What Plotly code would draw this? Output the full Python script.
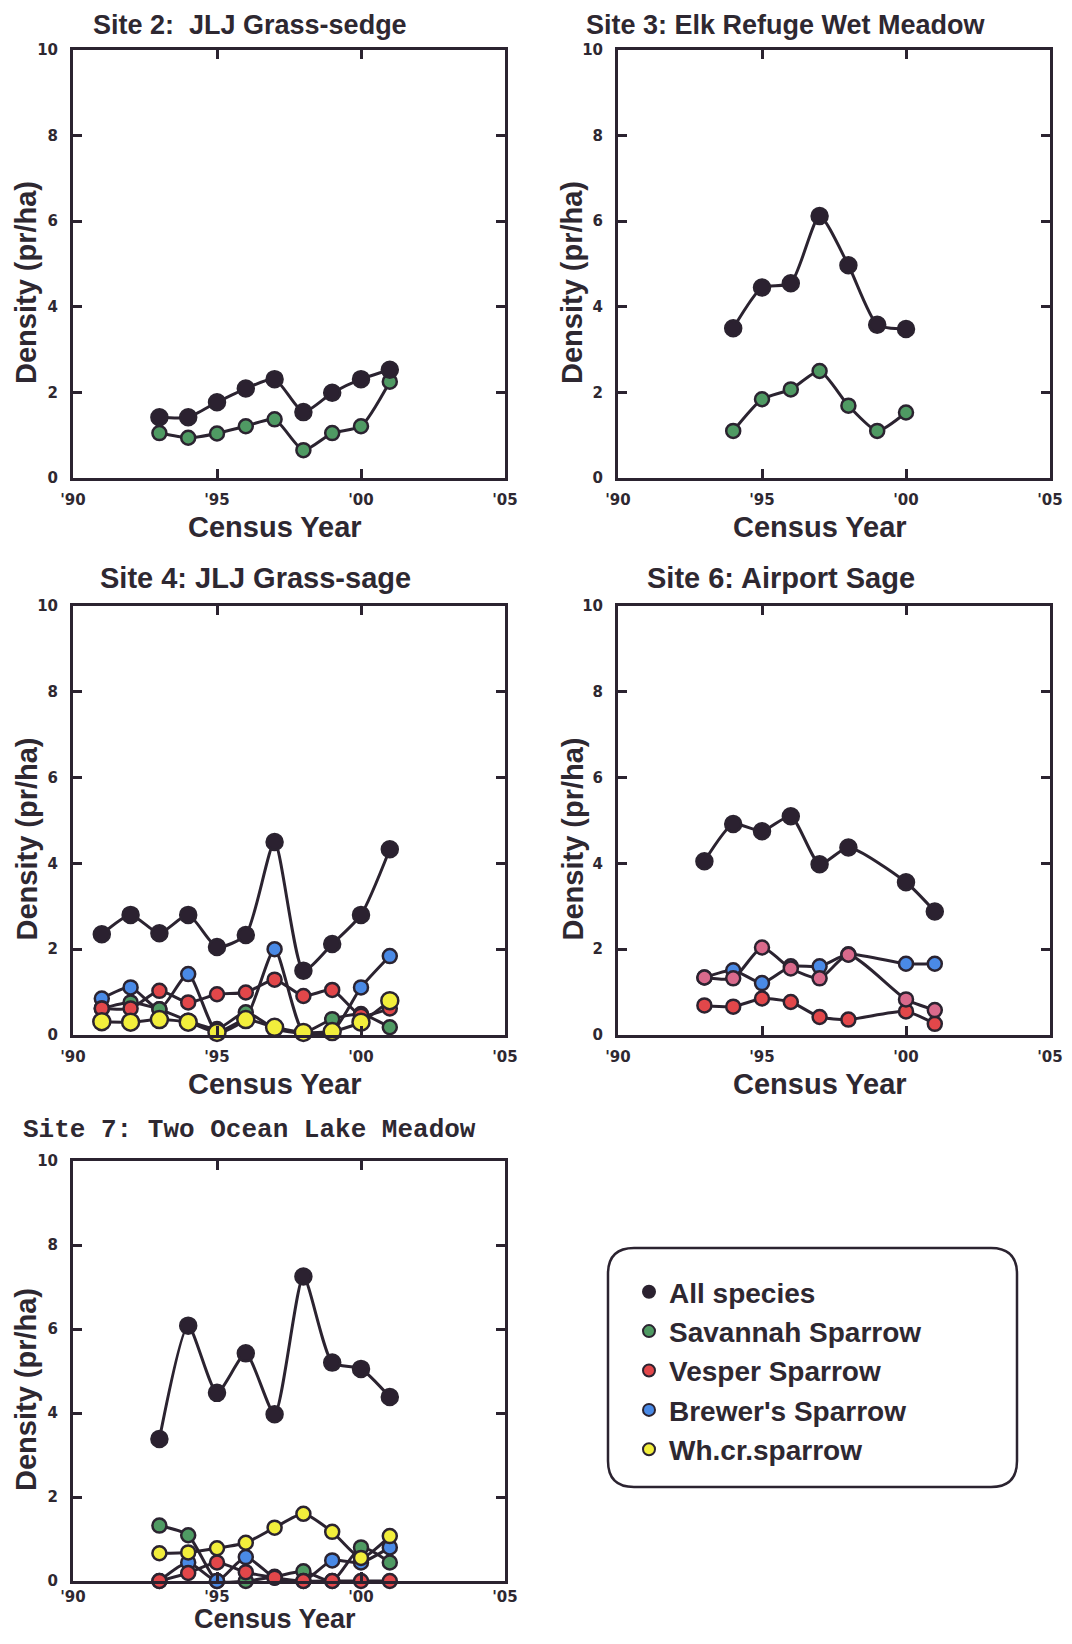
import plotly.graph_objects as go

# The page body has an 8px margin; the figure is sized to fit the 1072x1644 window.
OFF = 8
W, H = 1072 - 2 * OFF, 1644 - 2 * OFF

# ---------------- data ----------------
species = ["All species", "Savannah Sparrow", "Vesper Sparrow", "Brewer's Sparrow", "Wh.cr.sparrow"]
colors = {"All species": "#2b2130", "Savannah Sparrow": "#4f9a63", "Vesper Sparrow": "#e2474a",
          "Brewer's Sparrow": "#4a8ae6", "Wh.cr.sparrow": "#f2ee3c", "Other": "#d96a8c"}

x_ticks = [1990, 1995, 2000, 2005]
x_tick_text = ["'90", "'95", "'00", "'05"]
y_ticks = [0, 2, 4, 6, 8, 10]
x_title = "Census Year"
y_title = "Density (pr/ha)"

# Site 2
s2_years = [1993, 1994, 1995, 1996, 1997, 1998, 1999, 2000, 2001]
s2_all = [1.42, 1.42, 1.77, 2.09, 2.31, 1.54, 1.99, 2.31, 2.53]
s2_sav = [1.05, 0.94, 1.04, 1.21, 1.37, 0.65, 1.05, 1.21, 2.25]

# Site 3
s3_years = [1994, 1995, 1996, 1997, 1998, 1999, 2000]
s3_all = [3.5, 4.45, 4.55, 6.12, 4.97, 3.58, 3.48]
s3_sav = [1.1, 1.84, 2.07, 2.5, 1.69, 1.1, 1.53]

# Site 4
s4_years = [1991, 1992, 1993, 1994, 1995, 1996, 1997, 1998, 1999, 2000, 2001]
s4_all = [2.35, 2.8, 2.37, 2.8, 2.05, 2.33, 4.5, 1.5, 2.12, 2.8, 4.33]
s4_sav = [0.62, 0.76, 0.6, 0.33, 0.14, 0.53, 0.15, 0.05, 0.37, 0.49, 0.18]
s4_ves = [0.62, 0.62, 1.03, 0.76, 0.95, 0.99, 1.29, 0.91, 1.05, 0.45, 0.62]
s4_bre = [0.85, 1.11, 0.6, 1.42, 0.06, 0.38, 2.0, 0.06, 0.08, 1.11, 1.84]
s4_whc = [0.31, 0.3, 0.36, 0.3, 0.06, 0.36, 0.18, 0.06, 0.08, 0.3, 0.8]

# Site 6
s6_years = [1993, 1994, 1995, 1996, 1997, 1998, 2000, 2001]
s6_all = [4.05, 4.92, 4.75, 5.1, 3.98, 4.37, 3.56, 2.88]
s6_oth = [1.34, 1.32, 2.04, 1.55, 1.32, 1.87, 0.83, 0.58]
s6_bre = [1.34, 1.51, 1.21, 1.6, 1.6, 1.88, 1.66, 1.66]
s6_ves = [0.69, 0.66, 0.85, 0.77, 0.42, 0.36, 0.55, 0.26]

# Site 7
s7_years = [1993, 1994, 1995, 1996, 1997, 1998, 1999, 2000, 2001]
s7_all = [3.38, 6.08, 4.48, 5.42, 3.97, 7.25, 5.2, 5.05, 4.38]
s7_sav = [1.32, 1.09, 0.0, 0.0, 0.1, 0.23, 0.0, 0.8, 0.44]
s7_ves = [0.0, 0.19, 0.44, 0.21, 0.08, 0.0, 0.0, 0.0, 0.0]
s7_bre = [0.0, 0.44, 0.0, 0.57, 0.08, 0.0, 0.49, 0.44, 0.8]
s7_whc = [0.66, 0.68, 0.78, 0.91, 1.27, 1.6, 1.17, 0.55, 1.07]

titles = ["Site 2:  JLJ Grass-sedge", "Site 3: Elk Refuge Wet Meadow", "Site 4: JLJ Grass-sage",
          "Site 6: Airport Sage", "Site 7: Two Ocean Lake Meadow"]

# ---------------- layout geometry (window pixels) ----------------
panels = [
    dict(x=(73, 505), y=(50, 478)),
    dict(x=(618, 1050), y=(50, 478)),
    dict(x=(73, 505), y=(606, 1035)),
    dict(x=(618, 1050), y=(606, 1035)),
    dict(x=(73, 505), y=(1161, 1581)),
]


def px(x):
    return (x - OFF) / W


def py(y):
    return 1 - (y - OFF) / H


DARK = "#2b2330"
TXT = "#2e2831"

fig = go.Figure()


def add_series(i, years, vals, key, size=14):
    sfx = "" if i == 0 else str(i + 1)
    fig.add_trace(go.Scatter(
        x=years, y=vals, mode="lines+markers", xaxis="x" + sfx, yaxis="y" + sfx,
        line=dict(color=DARK, width=3, shape="spline", smoothing=0.6),
        marker=dict(size=size, color=colors[key], line=dict(color=DARK, width=2.5)),
        cliponaxis=False, showlegend=False, name=key, hoverinfo="x+y+name"))


# Site 2
add_series(0, s2_years, s2_sav, "Savannah Sparrow", 14)
add_series(0, s2_years, s2_all, "All species", 16)
# Site 3
add_series(1, s3_years, s3_sav, "Savannah Sparrow", 14)
add_series(1, s3_years, s3_all, "All species", 16)
# Site 4
add_series(2, s4_years, s4_bre, "Brewer's Sparrow", 14)
add_series(2, s4_years, s4_sav, "Savannah Sparrow", 14)
add_series(2, s4_years, s4_ves, "Vesper Sparrow", 14)
add_series(2, s4_years, s4_whc, "Wh.cr.sparrow", 17)
add_series(2, s4_years, s4_all, "All species", 16)
# Site 6
add_series(3, s6_years, s6_ves, "Vesper Sparrow", 14)
add_series(3, s6_years, s6_bre, "Brewer's Sparrow", 14)
add_series(3, s6_years, s6_oth, "Other", 14)
add_series(3, s6_years, s6_all, "All species", 16)
# Site 7
add_series(4, s7_years, s7_sav, "Savannah Sparrow", 14)
add_series(4, s7_years, s7_bre, "Brewer's Sparrow", 14)
add_series(4, s7_years, s7_ves, "Vesper Sparrow", 14)
add_series(4, s7_years, s7_whc, "Wh.cr.sparrow", 14)
add_series(4, s7_years, s7_all, "All species", 16)

# Legend entries (marker only)
for k, sp in enumerate(species):
    fig.add_trace(go.Scatter(
        x=[None], y=[None], mode="markers", name=sp,
        marker=dict(size=15, color=colors[sp], line=dict(color=DARK, width=2)),
        showlegend=True))

tickfont = dict(family="DejaVu Sans", size=15, color=TXT, weight="bold")
titlefont = dict(family="Liberation Sans", size=29, color=TXT, weight="bold")

layout = dict(
    template="none",
    width=W, height=H, margin=dict(l=0, r=0, t=0, b=0, autoexpand=False),
    paper_bgcolor="white", plot_bgcolor="white",
    showlegend=True,
    legend=dict(x=px(629), y=py(1267), xanchor="left", yanchor="top",
                bgcolor="rgba(0,0,0,0)", itemsizing="constant", traceorder="normal",
                font=dict(family="Liberation Sans", size=28, color=TXT, weight="bold")),
)

for i, p in enumerate(panels):
    sfx = "" if i == 0 else str(i + 1)
    x0, x1 = p["x"]
    y0, y1 = p["y"]
    layout["xaxis" + sfx] = dict(
        domain=[px(x0), px(x1)], anchor="y" + sfx, range=[1990, 2005], automargin=False,
        tickmode="array", tickvals=x_ticks, ticktext=x_tick_text,
        ticks="inside", ticklen=9, tickwidth=2.5, tickcolor=DARK,
        showline=True, linewidth=3, linecolor=DARK, mirror="ticks",
        showgrid=False, zeroline=False, tickfont=tickfont,
        ticklabelstandoff=(0 if i == 4 else 6))
    layout["yaxis" + sfx] = dict(
        domain=[py(y1), py(y0)], anchor="x" + sfx, range=[0, 10], automargin=False,
        tickmode="array", tickvals=y_ticks,
        ticks="inside", ticklen=9, tickwidth=2.5, tickcolor=DARK,
        showline=True, linewidth=3, linecolor=DARK, mirror="ticks",
        showgrid=False, zeroline=False, tickfont=tickfont, ticklabelstandoff=9)

fig.update_layout(**layout)

# Axis titles (placed as in the reference: slightly off-centre)
for i, p in enumerate(panels):
    x0, x1 = p["x"]
    y0, y1 = p["y"]
    cx = (x0 + x1) / 2 - 14
    if i == 4:
        fig.add_annotation(x=px(cx), y=0, xref="paper", yref="paper", text=x_title,
                           showarrow=False, xanchor="center", yanchor="bottom",
                           font=dict(family="Liberation Sans", size=27, color=TXT, weight="bold"))
    else:
        fig.add_annotation(x=px(cx), y=py(y1 + 49), xref="paper", yref="paper", text=x_title,
                           showarrow=False, xanchor="center", yanchor="middle", font=titlefont)
    ty_x = 26 if x0 < 300 else 572
    fig.add_annotation(x=px(ty_x), y=py((y0 + y1) / 2 + 19), xref="paper", yref="paper",
                       text=y_title, textangle=-90, showarrow=False,
                       xanchor="center", yanchor="middle", font=titlefont)

# Panel titles
title_pos = [(250, None, "center"), (786, None, "center"), (255, 578, "center"),
             (781, 578, "center"), (21, 1130, "left")]
for i, (tx, ty, anc) in enumerate(title_pos):
    if i == 4:
        f = dict(family="Liberation Mono", size=26, color=TXT, weight="bold")
    elif ty is None:
        f = dict(family="Liberation Sans", size=27, color=TXT, weight="bold")
    else:
        f = dict(family="Liberation Sans", size=29, color=TXT, weight="bold")
    if ty is None:
        fig.add_annotation(x=px(tx), y=1, xref="paper", yref="paper", text=titles[i],
                           showarrow=False, xanchor=anc, yanchor="top", font=f)
    else:
        fig.add_annotation(x=px(tx), y=py(ty), xref="paper", yref="paper", text=titles[i],
                           showarrow=False, xanchor=anc, yanchor="middle", font=f)

# Rounded legend box
bx0, bx1, by0, by1, r = 608, 1017, 1248, 1487, 26
path = (f"M {px(bx0 + r)} {py(by0)} L {px(bx1 - r)} {py(by0)} "
        f"Q {px(bx1)} {py(by0)} {px(bx1)} {py(by0 + r)} "
        f"L {px(bx1)} {py(by1 - r)} Q {px(bx1)} {py(by1)} {px(bx1 - r)} {py(by1)} "
        f"L {px(bx0 + r)} {py(by1)} Q {px(bx0)} {py(by1)} {px(bx0)} {py(by1 - r)} "
        f"L {px(bx0)} {py(by0 + r)} Q {px(bx0)} {py(by0)} {px(bx0 + r)} {py(by0)} Z")
fig.add_shape(type="path", path=path, xref="paper", yref="paper",
              line=dict(color=DARK, width=2.5), fillcolor="rgba(0,0,0,0)", layer="below")

fig.write_html("out.html")
